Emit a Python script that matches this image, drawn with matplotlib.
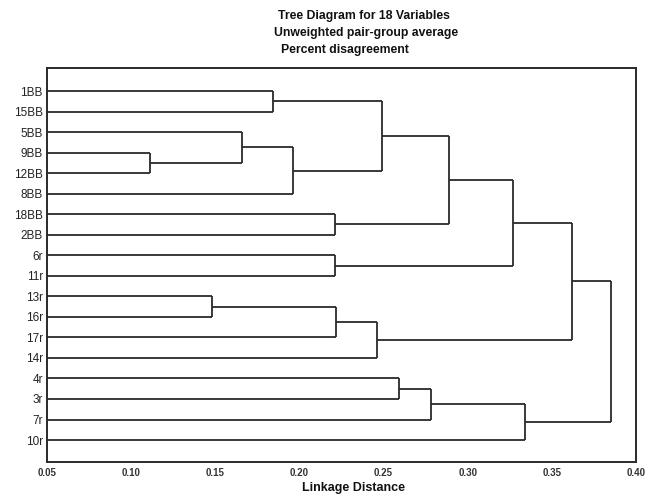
import matplotlib.pyplot as plt
import numpy as np

# leaf labels, top to bottom
leaves = ['1BB', '15BB', '5BB', '9BB', '12BB', '8BB', '18BB', '2BB', '6r',
          '11r', '13r', '16r', '17r', '14r', '4r', '3r', '7r', '10r']

# merges: pairs of cluster ids (0..17 leaves, 18+ new clusters) and heights
merge_a = [3, 10, 2, 0, 20, 6, 8, 19, 25, 21, 14, 28, 27, 30, 29, 31, 33]
merge_b = [4, 11, 18, 1, 5, 7, 9, 12, 13, 22, 15, 16, 23, 24, 17, 26, 32]
heights = [0.111, 0.148, 0.166, 0.184, 0.196, 0.221, 0.221, 0.222, 0.246,
           0.249, 0.259, 0.278, 0.289, 0.327, 0.334, 0.362, 0.385]

x_ticks = [0.05, 0.10, 0.15, 0.20, 0.25, 0.30, 0.35, 0.40]
base = 0.05

plt.rcParams['font.family'] = ['Liberation Sans', 'DejaVu Sans']

fig = plt.figure(figsize=(6.49, 4.99), dpi=100)
ax = fig.add_axes([0.0724, 0.0741, 0.9076, 0.7896])

line_kw = dict(color='#2a2a2a', lw=1.3, solid_capstyle='butt')

ypos = {i: float(i) for i in range(len(leaves))}
xpos = {i: base for i in range(len(leaves))}
for k, (a, b, h) in enumerate(zip(merge_a, merge_b, heights)):
    cid = len(leaves) + k
    ax.plot([xpos[a], h], [ypos[a], ypos[a]], **line_kw)
    ax.plot([xpos[b], h], [ypos[b], ypos[b]], **line_kw)
    ax.plot([h, h], [ypos[a], ypos[b]], **line_kw)
    ypos[cid] = (ypos[a] + ypos[b]) / 2
    xpos[cid] = h

ax.set_xlim(0.05, 0.40)
ax.set_ylim(18.07, -1.12)
ax.set_yticks(range(len(leaves)))
ax.set_yticklabels(leaves, fontsize=8.5, color='#222222')
ax.set_xticks(x_ticks)
ax.set_xticklabels([f'{t:.2f}' for t in x_ticks], fontsize=7, fontweight='bold',
                   color='#333333')
ax.tick_params(length=0, pad=4)
ax.tick_params(axis='y', pad=3)
for s in ax.spines.values():
    s.set_linewidth(1.4)
    s.set_color('#2a2a2a')

title_kw = dict(ha='center', va='center', fontsize=8.8, fontweight='bold',
                color='#111111')
fig.text(0.561, 0.968, 'Tree Diagram for 18 Variables', **title_kw)
fig.text(0.564, 0.934, 'Unweighted pair-group average', **title_kw)
fig.text(0.532, 0.900, 'Percent disagreement', **title_kw)
fig.text(0.544, 0.022, 'Linkage Distance', ha='center', va='center',
         fontsize=9, fontweight='bold', color='#111111')

fig.savefig('out.png', dpi=100)
